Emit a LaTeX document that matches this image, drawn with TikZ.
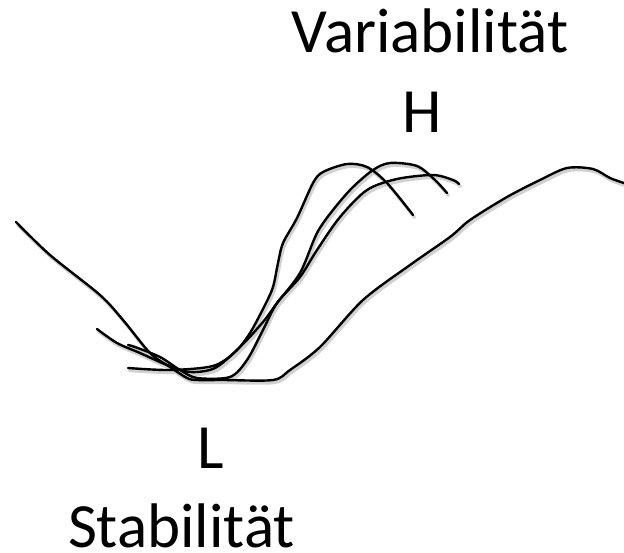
\documentclass[tikz,border=0pt]{standalone}
\usepackage{fontspec}
\setmainfont{Carlito}
\begin{document}
\begin{tikzpicture}[x=1pt,y=-1pt,
  curve/.style={line width=2.4pt,line cap=round,line join=round,black},
  shadowcurve/.style={line width=3.2pt,line cap=round,line join=round,black!18,xshift=1.5pt,yshift=-2.5pt},
  label/.style={anchor=base,inner sep=0pt,font=\fontsize{63}{63}\selectfont}]
\useasboundingbox (0,0) rectangle (624,552);
% texts
\node[label] (var) at (430,52) {Variabilität};
\node[label] (h) at (422,132) {H};
\node[label] (l) at (211,468) {L};
\node[label] (stab) at (181.5,547) {Stabilität};
\def\crvA{(128,368) (170,370) (213,366) (235,352) (250,333) (265,305) (273,287) (278,263) (283,243) (297,218) (313,183) (323,172) (347,164) (367,167) (387,183) (413,215)}
\def\crvB{(97,329) (117,343) (140,353) (167,365) (190,372) (215,368) (240,347) (263,322) (277,303) (300,273) (317,233) (333,210) (352,188) (373,170) (390,163) (417,166) (435,180) (447,193)}
\def\crvC{(128,345) (135,347) (160,357) (180,370) (197,378) (230,377) (247,360) (263,330) (277,303) (300,277) (317,250) (340,217) (367,190) (397,179) (433,175) (453,180) (459,184)}
\def\crvD{(16,222) (50,255) (100,295) (123,320) (150,353) (170,367) (187,378) (197,380) (223,380) (273,380) (290,370) (320,347) (363,300) (410,265) (450,237) (470,220) (507,197) (540,180) (567,168) (593,169) (610,178) (624,183)}
% shadows
\foreach \c in {\crvA,\crvB,\crvC,\crvD}{
  \draw[shadowcurve] plot[smooth,tension=0.5] coordinates {\c};
}
% curves
\foreach \c in {\crvA,\crvB,\crvC,\crvD}{
  \draw[curve] plot[smooth,tension=0.5] coordinates {\c};
}
\end{tikzpicture}
\end{document}
